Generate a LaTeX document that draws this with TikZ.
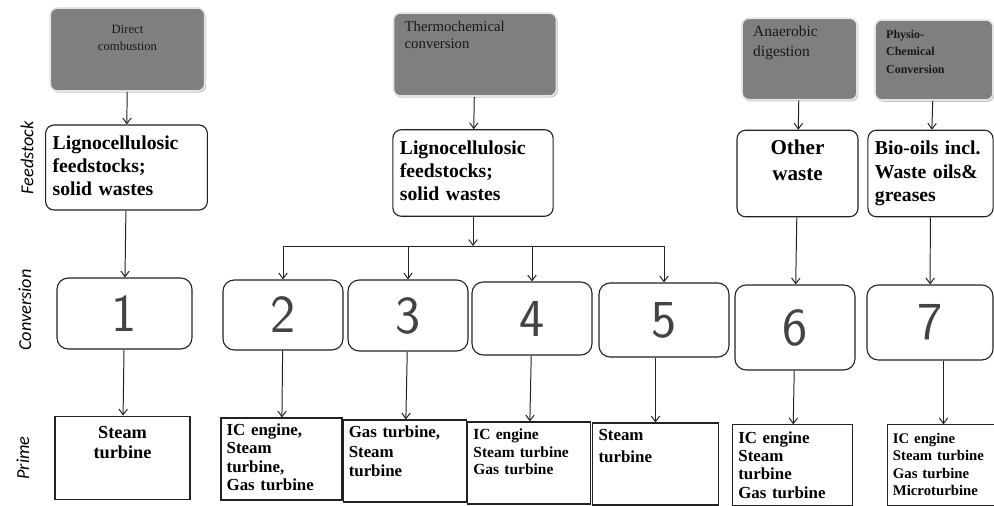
\documentclass[tikz,border=0pt]{standalone}
\usepackage{fontspec}
\setmainfont{Liberation Serif}
\newfontfamily\sidefont{Carlito}
\usepackage{tikz}
\usetikzlibrary{arrows.meta,shadows}
\definecolor{procgrey}{HTML}{7F7F7F}
\definecolor{inkgrey}{HTML}{222222}

\begin{document}
\begin{tikzpicture}[x=0.025cm, y=-0.025cm,
    process/.style={rectangle, rounded corners=5pt, fill=procgrey, draw=gray!20, line width=1.2pt, drop shadow={shadow xshift=1pt, shadow yshift=-1.2pt, opacity=0.45}, inner xsep=8pt, inner ysep=5pt, text height=8pt, align=left, text=black!90},
    feed/.style={rectangle, rounded corners=6pt, draw=inkgrey, line width=0.8pt, fill=white, inner xsep=5pt, inner ysep=4pt, text height=13.5pt, align=left, font=\bfseries\fontsize{14}{16.5}\selectfont},
    conv/.style={rectangle, rounded corners=8pt, draw=inkgrey, line width=0.8pt, inner sep=0pt, font=\sffamily\fontsize{38}{38}\selectfont, text=inkgrey!85},
    prime/.style={rectangle, draw=inkgrey, line width=0.8pt, inner xsep=4pt, inner ysep=4pt, text height=8.5pt, align=left, font=\bfseries\fontsize{12}{13}\selectfont},
    stage/.style={rotate=90, font=\sidefont\itshape\fontsize{13}{14}\selectfont, text=black},
    arrow/.style={-{Straight Barb[length=4pt,width=6pt]}, line width=0.7pt, inkgrey},
    link/.style={line width=0.7pt, inkgrey}
]
\useasboundingbox (0,0) rectangle (994,506);

% Process routes
\node[process, text width=94pt, align=center, text height=13pt, text depth=36pt, font=\fontsize{9}{12}\selectfont] (direct) at (127.5,49.5) {Direct\\combustion};
\node[process, text width=100pt, text depth=41pt, font=\fontsize{10.5}{12.5}\selectfont] (thermo) at (475,54.5) {Thermochemical\\conversion};
\node[process, text width=65.8pt, text depth=40pt, font=\fontsize{11}{14}\selectfont] (anaer) at (799.5,59) {Anaerobic\\digestion};
\node[process, text width=68pt, text depth=39pt, font=\bfseries\fontsize{8.5}{12.5}\selectfont] (physio) at (934,60) {Physio-\\Chemical\\Conversion};

% Feedstock level
\node[feed, text width=105pt, text depth=39pt] (lig1) at (126.5,167.5) {Lignocellulosic\\feedstocks;\\solid wastes};
\node[feed, text width=104pt, text depth=40pt] (lig2) at (473,173) {Lignocellulosic\\feedstocks;\\solid wastes};
\node[feed, text width=76pt, text depth=40pt, align=center, font=\bfseries\fontsize{15}{18}\selectfont] (other) at (797.5,173.5) {Other\\waste};
\node[feed, text width=79pt, text depth=40pt] (biooil) at (930.5,173.5) {Bio-oils incl.\\Waste oils\&\\greases};

% Conversion level
\node[conv, minimum width=3.375cm, minimum height=1.775cm] (c1) at (124.5,313.5) {1};
\node[conv, minimum width=3cm, minimum height=1.75cm] (c2) at (283,315) {2};
\node[conv, minimum width=3cm, minimum height=1.775cm] (c3) at (408,315.5) {3};
\node[conv, minimum width=3cm, minimum height=1.825cm] (c4) at (532,318.5) {4};
\node[conv, minimum width=3.25cm, minimum height=1.85cm] (c5) at (664,320) {5};
\node[conv, minimum width=3cm, minimum height=2.125cm] (c6) at (795,327.5) {6};
\node[conv, minimum width=3.15cm, minimum height=1.875cm] (c7) at (930,322.5) {7};

% Prime movers
\node[prime, text width=88pt, align=center, text height=11.6pt, text depth=40pt, font=\bfseries\fontsize{13}{14.5}\selectfont] (p1) at (122.5,458) {Steam\\turbine};
\node[prime, text width=78pt, text depth=41.8pt] (p2) at (281.5,459) {IC engine,\\Steam\\turbine,\\Gas turbine};
\node[prime, text width=80pt, text depth=41.8pt, font=\bfseries\fontsize{12}{14}\selectfont] (p3) at (405,461) {Gas turbine,\\Steam\\turbine};
\node[prime, text width=79pt, text depth=41.8pt, font=\bfseries\fontsize{11}{12.5}\selectfont] (p4) at (529,463) {IC engine\\Steam turbine\\Gas turbine};
\node[prime, text width=81pt, text depth=41.8pt, font=\bfseries\fontsize{12}{15.5}\selectfont] (p5) at (655.5,464) {Steam\\turbine};
\node[prime, text width=77pt, text height=9pt, text depth=40pt] (p6) at (792.5,465) {IC engine\\Steam\\turbine\\Gas turbine};
\node[prime, text width=72pt, text height=9pt, text depth=40pt, font=\bfseries\fontsize{10.5}{12.5}\selectfont] (p7) at (943.5,465) {IC engine\\Steam turbine\\Gas turbine\\Microturbine};

% Stage labels
\node[stage] (lfeed) at (27,158) {Feedstock};
\node[stage] (lconv) at (25,310) {Conversion};
\node[stage] (lprime) at (23,458) {Prime};

% Links
\draw[arrow] (direct) -- (lig1);
\draw[arrow] (lig1) -- (c1);
\draw[arrow] (c1) -- (p1);

\draw[arrow] (thermo) -- (lig2);
\coordinate (split) at (473,246);
\draw[arrow] (lig2) -- (split);
\draw[link] (c2.north |- split) -- (c5.north |- split);
\draw[arrow] (c2.north |- split) -- (c2.north);
\draw[arrow] (c3.north |- split) -- (c3.north);
\draw[arrow] (c4.north |- split) -- (c4.north);
\draw[arrow] (c5.north |- split) -- (c5.north);
\draw[arrow] (c2) -- (p2);
\draw[arrow] (c3) -- (p3);
\draw[arrow] (c4) -- (p4);
\draw[arrow] (p5.north |- c5.south) -- (p5.north);

\draw[arrow] (anaer) -- (other);
\draw[arrow] (other) -- (c6);
\draw[arrow] (c6) -- (p6);

\draw[arrow] (physio) -- (biooil);
\draw[arrow] (biooil) -- (c7);
\draw[arrow] (p7.north |- c7.south) -- (p7.north);

\end{tikzpicture}
\end{document}
